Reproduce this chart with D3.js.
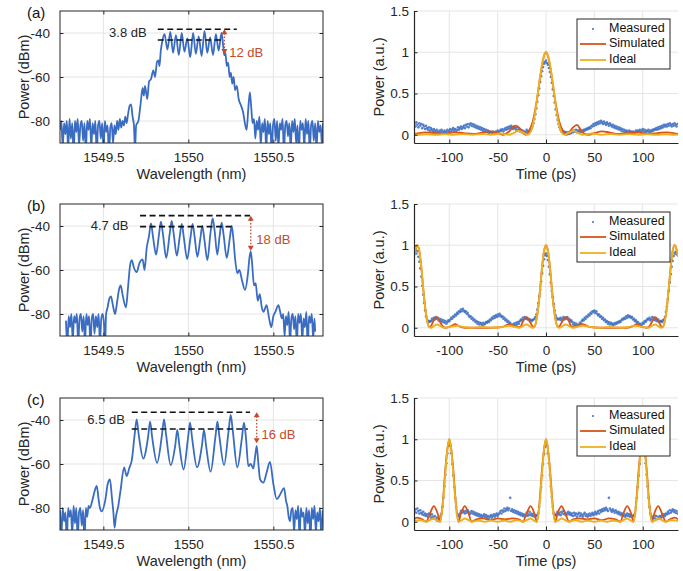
<!DOCTYPE html>
<html>
<head>
<meta charset="utf-8">
<script src="https://cdn.jsdelivr.net/npm/d3@7"></script>
<style>
  body { margin: 0; background: #fff; }
  svg { display: block; }
</style>
</head>
<body>
<svg id="fig" width="683" height="571"></svg>
<script>
// ---- tick values and labels ----
const wlTicks = [1549.5, 1550, 1550.5];
const dbmTicks = [-80, -60, -40];
const timeTicks = [-100, -50, 0, 50, 100];
const powTicks = [0, 0.5, 1, 1.5];
const panelLabels = ['(a)', '(b)', '(c)'];
const legendNames = ['Measured', 'Simulated', 'Ideal'];

// ---- spectrum annotations (dB values / wavelengths) ----
const rippleText = ['3.8 dB', '4.7 dB', '6.5 dB'];
const contrastText = ['12 dB', '18 dB', '16 dB'];
const levelHigh = [-38.3, -35.3, -36.5];
const levelLow = [-43.2, -40.3, -44.1];
const levelStart = [1549.82, 1549.716, 1549.667];
const highEnd = [1550.285, 1550.363, 1550.363];
const lowEnd = [1550.196, 1550.27, 1550.35];
const arrowWl = [1550.212, 1550.367, 1550.402];
const arrowLow = [-49.6, -51.2, -50.6];
const rippleAt = [[1549.755, -40.2], [1549.647, -40.3], [1549.627, -40.3]];
const contrastAt = [[1550.24, -49.2], [1550.40, -46.7], [1550.43, -47.2]];

// ---- optical spectra [wavelength nm, power dBm] ----
const specA = [
  [1549.245,-84],[1549.253,-80],[1549.261,-92],[1549.269,-81],[1549.277,-86],[1549.285,-80],[1549.293,-93],
  [1549.301,-79],[1549.309,-88],[1549.317,-81],[1549.325,-95],[1549.333,-80],[1549.341,-85],[1549.349,-79],
  [1549.357,-91],[1549.365,-82],[1549.373,-80],[1549.381,-89],[1549.389,-81],[1549.397,-94],[1549.405,-80],
  [1549.413,-84],[1549.421,-79],[1549.429,-92],[1549.437,-81],[1549.445,-86],[1549.453,-80],[1549.461,-95],
  [1549.469,-82],[1549.477,-80],[1549.485,-88],[1549.493,-81],[1549.501,-93],[1549.509,-80],[1549.517,-85],
  [1549.525,-82],[1549.533,-96],[1549.541,-83],[1549.549,-81],[1549.557,-90],[1549.565,-82],[1549.573,-86],
  [1549.581,-80],[1549.589,-84],[1549.597,-79],[1549.605,-83],[1549.613,-80],[1549.621,-82],[1549.629,-78],
  [1549.637,-81],[1549.645,-77],[1549.655,-73],[1549.663,-72.5],[1549.672,-78],[1549.680,-82],[1549.686,-93],
  [1549.693,-82],[1549.706,-80],[1549.718,-73],[1549.731,-65],[1549.738,-68.5],[1549.745,-64],[1549.758,-70],
  [1549.769,-62],[1549.780,-61],[1549.794,-57],[1549.804,-60],[1549.816,-53],[1549.824,-52.5],[1549.830,-55],
  [1549.838,-48],[1549.846,-44],
  [1549.860,-40.5],[1549.877,-47.5],[1549.894,-39.5],[1549.910,-49],[1549.927,-41],[1549.944,-50],
  [1549.961,-40],[1549.977,-48.5],[1549.994,-42.5],[1550.011,-51],[1550.028,-40],[1550.044,-49.5],
  [1550.061,-41.5],[1550.078,-50.5],[1550.095,-39],[1550.111,-49],[1550.128,-42],[1550.145,-50],
  [1550.162,-40.5],[1550.178,-48],[1550.195,-40],
  [1550.205,-46],[1550.211,-50],[1550.218,-49],[1550.226,-55],[1550.234,-53.5],[1550.243,-60],[1550.250,-58],
  [1550.258,-63],[1550.266,-60],[1550.275,-66],[1550.285,-64],[1550.296,-70],[1550.310,-73],[1550.322,-76],
  [1550.335,-82],[1550.343,-84],[1550.352,-75],[1550.362,-67],[1550.370,-74],[1550.378,-81],
  [1550.386,-79],[1550.394,-88],[1550.402,-80],[1550.410,-84],[1550.418,-78],[1550.426,-91],[1550.434,-81],
  [1550.442,-85],[1550.450,-79],[1550.458,-93],[1550.466,-80],[1550.474,-86],[1550.482,-81],[1550.490,-95],
  [1550.498,-82],[1550.506,-79],[1550.514,-89],[1550.522,-80],[1550.530,-92],[1550.538,-81],[1550.546,-84],
  [1550.554,-79],[1550.562,-94],[1550.570,-82],[1550.578,-80],[1550.586,-87],[1550.594,-81],[1550.602,-93],
  [1550.610,-80],[1550.618,-85],[1550.626,-79],[1550.634,-90],[1550.642,-82],[1550.650,-96],[1550.658,-80],
  [1550.666,-84],[1550.674,-81],[1550.682,-92],[1550.690,-79],[1550.698,-86],[1550.706,-80],[1550.714,-94],
  [1550.722,-82],[1550.730,-80],[1550.738,-89],[1550.746,-81],[1550.754,-93],[1550.762,-80],[1550.770,-85],
  [1550.778,-82],[1550.786,-91],[1550.792,-81]
];

const specB = [
  [1549.280,-83],[1549.288,-95],[1549.296,-81],[1549.304,-86],[1549.312,-80],[1549.320,-92],[1549.328,-81],
  [1549.336,-84],[1549.344,-80],[1549.352,-94],[1549.360,-82],[1549.368,-80],[1549.376,-88],[1549.384,-81],
  [1549.392,-93],[1549.400,-80],[1549.408,-85],[1549.416,-81],[1549.424,-95],[1549.432,-82],[1549.440,-80],
  [1549.448,-89],[1549.456,-81],[1549.464,-86],[1549.472,-80],[1549.480,-93],[1549.488,-82],[1549.496,-80],
  [1549.504,-85],[1549.510,-96],[1549.516,-80],[1549.525,-77],[1549.535,-73],[1549.545,-72],[1549.556,-76],
  [1549.569,-80],[1549.580,-75],[1549.592,-69],[1549.602,-67],[1549.615,-72],[1549.633,-77],[1549.645,-68],
  [1549.657,-58],[1549.667,-55.5],[1549.680,-59],[1549.696,-61],[1549.712,-57],[1549.731,-55.2],[1549.742,-60],
  [1549.755,-50],
  [1549.768,-44.8],[1549.780,-38.8],[1549.792,-44.8],[1549.810,-53],
  [1549.827,-44],[1549.839,-38],[1549.851,-44],[1549.870,-54.5],
  [1549.890,-43.7],[1549.902,-37.7],[1549.914,-43.7],[1549.932,-53.5],
  [1549.949,-45],[1549.961,-39],[1549.973,-45],[1549.993,-55],
  [1550.013,-45],[1550.025,-39],[1550.037,-45],[1550.053,-54],
  [1550.070,-46],[1550.082,-40],[1550.094,-46],[1550.112,-55.5],
  [1550.131,-42.5],[1550.143,-36.5],[1550.155,-42.5],[1550.170,-53],
  [1550.184,-44.5],[1550.196,-38.5],[1550.208,-44.5],[1550.226,-54.5],
  [1550.243,-46],[1550.255,-40],[1550.265,-46],
  [1550.275,-55],[1550.288,-61.5],[1550.300,-60],[1550.315,-64.5],[1550.333,-69],[1550.350,-62],[1550.360,-54],
  [1550.367,-51.5],[1550.375,-57],[1550.386,-67],[1550.396,-66],[1550.408,-74],[1550.420,-71],[1550.432,-77],
  [1550.442,-79],[1550.460,-76],[1550.475,-82],[1550.488,-86],[1550.500,-81],[1550.512,-79],[1550.530,-76],
  [1550.540,-79],[1550.550,-82],
  [1550.558,-80],[1550.566,-90],[1550.574,-81],[1550.582,-85],[1550.590,-79],[1550.598,-93],[1550.606,-82],
  [1550.614,-80],[1550.622,-87],[1550.630,-81],[1550.638,-94],[1550.646,-80],[1550.654,-84],[1550.662,-80],
  [1550.670,-92],[1550.678,-82],[1550.686,-86],[1550.694,-79],[1550.702,-95],[1550.710,-81],[1550.718,-84],
  [1550.726,-80],[1550.734,-91],[1550.742,-82],[1550.746,-88]
];

const specC = [
  [1549.245,-81],[1549.253,-93],[1549.261,-80],[1549.269,-86],[1549.277,-82],[1549.285,-95],[1549.293,-80],
  [1549.301,-84],[1549.309,-81],[1549.317,-92],[1549.325,-79],[1549.333,-87],[1549.341,-80],[1549.349,-94],
  [1549.357,-82],[1549.365,-80],[1549.373,-88],[1549.381,-81],[1549.389,-95],[1549.397,-80],[1549.405,-84],
  [1549.413,-79],[1549.420,-80],[1549.437,-76],[1549.450,-72],[1549.461,-70],[1549.472,-76],[1549.480,-80],
  [1549.490,-81.5],[1549.510,-77],[1549.526,-69],[1549.539,-67],[1549.550,-75],[1549.559,-82],[1549.566,-89],
  [1549.574,-84],[1549.588,-79],[1549.602,-71.5],[1549.622,-61.5],[1549.637,-65.5],[1549.652,-62],[1549.668,-58],
  [1549.684,-46.7],[1549.696,-39.7],[1549.708,-46.7],[1549.735,-57.5],
  [1549.763,-47.8],[1549.775,-40.8],[1549.787,-47.8],[1549.816,-59.5],
  [1549.845,-46.7],[1549.857,-39.7],[1549.869,-46.7],[1549.896,-60.5],
  [1549.923,-51.5],[1549.935,-44.5],[1549.947,-51.5],[1549.972,-62.5],
  [1549.998,-48.2],[1550.010,-41.2],[1550.022,-48.2],[1550.051,-61.5],
  [1550.080,-51.5],[1550.092,-44.5],[1550.104,-51.5],[1550.131,-63.5],
  [1550.159,-47.8],[1550.171,-40.8],[1550.183,-47.8],[1550.210,-60.5],
  [1550.237,-44.7],[1550.249,-37.7],[1550.261,-44.7],[1550.288,-61.5],
  [1550.315,-48.2],[1550.327,-41.2],[1550.339,-48.2],
  [1550.353,-61],[1550.367,-60],[1550.382,-62],[1550.392,-57],[1550.402,-51.8],[1550.412,-60],[1550.422,-67],
  [1550.441,-68.5],[1550.460,-64],[1550.480,-59],[1550.500,-69],[1550.520,-76],[1550.539,-74],[1550.563,-71],
  [1550.575,-77],[1550.582,-79],[1550.590,-84],[1550.598,-86],[1550.606,-81],
  [1550.614,-80],[1550.622,-91],[1550.630,-81],[1550.638,-85],[1550.646,-79],[1550.654,-94],[1550.662,-80],
  [1550.670,-84],[1550.678,-82],[1550.686,-92],[1550.694,-80],[1550.702,-87],[1550.710,-81],[1550.718,-95],
  [1550.726,-80],[1550.734,-85],[1550.742,-79],[1550.750,-91],[1550.758,-82],[1550.766,-86],[1550.774,-80],
  [1550.782,-93],[1550.790,-81]
];

// ---- pulse traces: measured samples every 1 ps starting at -136 ps ----
const measStart = -136;
const measA = [
  .13,.10,.15,.12,.09,.14,.11,.13,.08,.12,
  .10,.07,.11,.08,.06,.09,.05,.08,.06,.04,
  .07,.05,.03,.06,.04,.02,.05,.03,.06,.04,
  .02,.05,.03,.04,.06,.03,.05,.07,.04,.06,
  .08,.05,.07,.04,.06,.09,.06,.08,.10,.07,
  .09,.11,.08,.12,.10,.13,.09,.12,.14,.11,
  .13,.10,.12,.09,.11,.08,.10,.07,.09,.06,
  .08,.05,.07,.04,.06,.03,.05,.02,.04,.03,
  .02,.04,.03,.01,.04,.02,.05,.03,.04,.06,
  .05,.07,.04,.06,.08,.06,.09,.07,.10,.08,
  .11,.09,.07,.10,.08,.06,.09,.05,.07,.04,
  .06,.03,.05,.02,.04,.03,.06,.04,.03,.04,
  .05,.07,.10,.14,.19,.25,.32,.40,.48,.56,
  .64,.71,.77,.82,.86,.88,.90,.87,.85,.81,
  .76,.70,.63,.55,.47,.39,.31,.24,.18,.13,
  .09,.06,.04,.03,.02,.04,.02,.03,.01,.03,
  .01,.03,.02,.04,.03,.05,.04,.06,.03,.05,
  .04,.06,.03,.05,.04,.06,.05,.07,.06,.08,
  .07,.09,.08,.11,.10,.13,.11,.14,.12,.15,
  .13,.16,.14,.17,.15,.13,.16,.14,.12,.15,
  .13,.11,.14,.12,.10,.12,.09,.11,.08,.10,
  .07,.09,.06,.08,.05,.07,.04,.06,.03,.05,
  .04,.02,.05,.03,.04,.02,.04,.01,.03,.05,
  .03,.05,.04,.06,.03,.05,.07,.04,.06,.03,
  .05,.04,.06,.03,.05,.04,.06,.05,.07,.06,
  .08,.06,.09,.07,.10,.08,.11,.09,.12,.10,
  .12,.10,.13,.11,.14,.12,.10,.13,.11,.14,
  .12,.10,.13
];
const measB = [
  .92,.95,.90,.93,
  .86,.80,.72,.62,.51,.40,.30,.21,.14,.10,.08,.07,.08,
  .08,.11,.09,.12,.10,.13,.11,.12,.09,.11,.08,.10,.07,.09,
  .06,.08,.05,.07,.09,.08,
  .10,.12,.11,.14,.13,.16,.15,.18,.17,.20,.19,.22,.20,.23,.21,.19,.20,.17,.18,.15,
  .13,.14,.11,.12,.09,.10,.07,.08,.05,.07,.04,.06,.05,.03,.06,.04,.05,.07,
  .06,.08,.07,.10,.09,.12,.11,.14,.12,.15,.13,.16,.14,.17,.15,.13,.14,.11,.12,.09,.10,.07,
  .08,.05,.06,.03,.04,.02,.05,.03,.06,.04,.07,.05,
  .08,.10,.09,.12,.10,.13,.11,.12,.10,.11,.09,.10,.08,.09,
  .10,.11,.13,.16,.22,.30,.38,.46,.56,.66,.75,.83,.88,.90,.87,.82,.74,.65,.55,.45,.37,.29,.21,.15,.12,.10,.11,
  .10,.12,.09,.11,.13,.10,.12,.11,.13,.10,.11,.08,.09,.07,
  .04,.06,.03,.05,.02,.04,.03,.06,.05,
  .08,.10,.09,.12,.11,.14,.13,.16,.15,.18,.17,.20,.19,.21,.18,.20,.17,.15,.16,.13,.14,
  .11,.12,.09,.10,.07,.08,.05,.07,.04,.06,.05,.03,.05,.04,.06,.05,.07,.06,.08,.07,
  .09,.11,.10,.12,.11,.14,.12,.15,.13,.14,.12,.13,.10,.11,.08,.09,.06,.07,.04,.05,
  .02,.04,.06,.05,.08,.07,
  .09,.11,.10,.12,.09,.11,.13,.10,.12,.09,.11,.08,.10,.07,.08,
  .08,.07,.09,.10,.13,.19,.26,.35,.45,.55,.65,.74,.81,.87,.90,.92,.89,.91
];
const measC = [
  .12,.15,.11,.16,.13,.10,.14,.11,.09,.12,.08,.10,
  .07,.09,.06,.10,.08,.05,.09,.06,.04,.07,.03,.05,.01,.03,
  .04,.07,.10,.18,.29,.43,.57,.71,.83,.92,.96,.92,.83,.70,.56,.42,.29,.18,.10,.08,.07,
  .10,.13,.11,.14,.12,.10,.13,.11,.14,.12,.09,.11,.13,.10,.12,.09,.11,.08,.10,
  .07,.09,.06,.08,.05,.07,.09,.06,.08,.05,.07,.04,.06,.08,.05,.07,.09,.06,.08,.10,.07,.09,
  .11,.13,.10,.14,.12,.16,.13,.15,.17,.14,.16,.29,.13,.15,.12,.14,.11,.13,.10,.12,.09,.11,.08,
  .10,.07,.09,.06,.08,.11,.07,.09,.12,.08,.10,.07,.09,.06,.08,
  .07,.08,.10,.18,.29,.42,.56,.70,.82,.91,.96,.92,.83,.71,.57,.43,.30,.18,.10,.08,.08,
  .10,.12,.09,.11,.08,.12,.10,.13,.09,.11,.08,.10,.12,.09,.11,.08,
  .10,.07,.11,.08,.10,.06,.09,.11,.07,.10,.08,.06,.09,.11,.07,.09,.06,.08,.10,.07,.09,.11,.08,.10,.12,.09,
  .11,.13,.10,.14,.12,.15,.13,.16,.14,.17,.15,.13,.29,.16,.14,.12,.15,.13,.11,.14,.12,.10,.12,
  .09,.11,.08,.10,.07,.09,.06,.08,.10,.07,.09,.06,.08,.07,
  .07,.08,.10,.18,.29,.42,.56,.70,.83,.92,.95,.92,.83,.71,.57,.43,.29,.18,.10,.07,.05,
  .05,.08,.04,.07,.03,.06,.04,.07,.05,.08,.06,.09,.07,.10,
  .09,.12,.10,.14,.11,.13,.15,.12,.14,.11,.13,.10
];

// ---- simulated and ideal traces [time ps, power a.u.] ----
const simA = [
  [-136.5,.01],[-125,.03],[-115,.02],[-105,.01],[-95,.03],[-85,.02],[-75,.01],[-65,.03],[-58,.04],[-50,.02],
  [-44,0],[-38,.04],[-32,.11],[-28,.09],[-24,.03],[-21,0],[-18,.04],[-14,.15],[-10,.38],[-6,.70],[-3,.91],
  [0,1],[3,.91],[6,.70],[10,.38],[14,.15],[18,.04],[21,0],[24,.03],[28,.09],[32,.12],[36,.06],[40,.01],
  [44,0],[50,.02],[58,.04],[65,.03],[75,.01],[85,.02],[95,.03],[105,.01],[115,.02],[125,.03],[136.5,.01]
];
const idealA = [
  [-136.5,.002],[-133,0],[-123.5,.006],[-114,0],[-104.5,.007],[-95,0],[-85.5,.008],[-76,0],[-66.5,.01],[-57,0],
  [-47.5,.016],[-38,0],[-34,.018],[-28.5,.045],[-23,.022],[-19,0],[-16,.032],[-14,.101],[-12,.213],[-10,.363],
  [-8,.537],[-6,.712],[-4,.862],[-2,.964],[0,1],[2,.964],[4,.862],[6,.712],[8,.537],[10,.363],[12,.213],
  [14,.101],[16,.032],[19,0],[23,.022],[28.5,.045],[34,.018],[38,0],[47.5,.016],[57,0],[66.5,.01],[76,0],
  [85.5,.008],[95,0],[104.5,.007],[114,0],[123.5,.006],[133,0],[136.5,.002]
];
const simB = [
  [-136.5,.86],[-135,.95],[-133,1],[-131,.93],[-129,.74],[-127,.48],[-125,.25],[-123,.09],[-121,.01],[-119,.02],
  [-116,.09],[-113,.13],[-110,.08],[-107,.02],[-104,0],[-98,.02],[-94,.045],[-90,.02],[-84,0],[-70,0],[-55,0],
  [-45,.01],[-38,.045],[-33,.02],[-28,.01],[-26,.02],[-23,.10],[-20,.13],[-17,.08],[-14,.02],[-12,.01],
  [-10,.09],[-8,.25],[-6,.48],[-4,.74],[-2,.93],[0,1],[2,.93],[4,.74],[6,.48],[8,.25],[10,.09],[12,.01],
  [14,.02],[17,.08],[20,.13],[23,.10],[26,.02],[28,.01],[33,.02],[38,.045],[45,.01],[55,0],[70,0],[84,0],
  [90,.02],[94,.045],[98,.02],[104,0],[107,.02],[110,.08],[113,.13],[116,.09],[119,.02],[121,.01],[123,.09],
  [125,.25],[127,.48],[129,.74],[131,.93],[133,1],[135,.95],[136.5,.86]
];
const idealB = [
  [-136.5,.86],[-135,.95],[-133,1],[-131,.93],[-129,.74],[-127,.48],[-125,.25],[-123,.09],[-121,.01],[-119,0],
  [-116,.02],[-113,.04],[-109,.02],[-106,0],[-99,.01],[-92,.025],[-86,.01],[-78,0],[-66,.01],[-55,0],[-45,.01],
  [-38,.025],[-32,.01],[-27,0],[-24,.02],[-20,.04],[-17,.02],[-14,0],[-12,.01],[-10,.09],[-8,.25],[-6,.48],
  [-4,.74],[-2,.93],[0,1],[2,.93],[4,.74],[6,.48],[8,.25],[10,.09],[12,.01],[14,0],[17,.02],[20,.04],[24,.02],
  [27,0],[32,.01],[38,.025],[45,.01],[55,0],[66,.01],[78,0],[86,.01],[92,.025],[99,.01],[106,0],[109,.02],
  [113,.04],[116,.02],[119,0],[121,.01],[123,.09],[125,.25],[127,.48],[129,.74],[131,.93],[133,1],[135,.95],
  [136.5,.86]
];
const simC = [
  [-136.5,.03],[-133,.05],[-128,.03],[-124,0],[-120,.10],[-116,.19],[-112,.10],[-109.5,0],[-107,.20],[-104,.65],
  [-102,.88],[-100,1],[-98,.88],[-96,.65],[-93,.20],[-90.5,0],[-88,.10],[-84,.19],[-80,.10],[-77,0],[-72,.03],
  [-65,.04],[-58,.02],[-50,.04],[-42,.03],[-35,.04],[-28,.03],[-24,0],[-20,.10],[-16,.19],[-12,.10],[-9.5,0],
  [-7,.20],[-4,.65],[-2,.88],[0,1],[2,.88],[4,.65],[7,.20],[9.5,0],[12,.10],[16,.19],[20,.10],[24,0],[28,.03],
  [35,.04],[42,.03],[50,.04],[58,.02],[65,.04],[72,.03],[77,0],[80,.10],[84,.19],[88,.10],[90.5,0],[93,.20],
  [96,.65],[98,.88],[100,1],[102,.88],[104,.65],[107,.20],[109.5,0],[112,.10],[116,.19],[120,.10],[124,0],
  [128,.03],[133,.05],[136.5,.03]
];
const idealC = [
  [-136.5,.01],[-130,.02],[-123,0],[-120,.02],[-116,.04],[-113,.02],[-109.5,0],[-108,.08],[-106,.30],[-104,.60],
  [-102,.88],[-100,1],[-98,.88],[-96,.60],[-94,.30],[-92,.08],[-90.5,0],[-87,.02],[-84,.04],[-80,.02],[-77,0],
  [-70,.015],[-63,0],[-57,.015],[-50,0],[-43,.015],[-37,0],[-30,.02],[-23,0],[-20,.02],[-16,.04],[-13,.02],
  [-9.5,0],[-8,.08],[-6,.30],[-4,.60],[-2,.88],[0,1],[2,.88],[4,.60],[6,.30],[8,.08],[9.5,0],[13,.02],[16,.04],
  [20,.02],[23,0],[30,.02],[37,0],[43,.015],[50,0],[57,.015],[63,0],[70,.015],[77,0],[80,.02],[84,.04],
  [87,.02],[90.5,0],[92,.08],[94,.30],[96,.60],[98,.88],[100,1],[102,.88],[104,.60],[106,.30],[108,.08],
  [109.5,0],[113,.02],[116,.04],[120,.02],[123,0],[130,.02],[136.5,.01]
];

const spectra = [specA, specB, specC];
const measured = [measA, measB, measC];
const simulated = [simA, simB, simC];
const ideal = [idealA, idealB, idealC];

// ---- layout ----
const font = '"Liberation Sans", Arial, Helvetica, sans-serif';
const ink = '#262626';
const gridCol = '#e2e2e2';
const blue = '#3a6cc2';
const red = '#d95319';
const yellow = '#edb120';
const annRed = '#c44a2c';
const tops = [11, 204, 398];
const plotH = 132;
const specL = 60, specR = 323;
const pulseL = 414, pulseR = 678;

const svg = d3.select('#fig').attr('font-family', font);
const fmtHyphen = d => String(d).replace('\u2212', '-');

function styleAxis(g, size) {
  g.attr('font-family', font);
  g.selectAll('text').attr('font-size', size).attr('fill', ink);
  g.selectAll('line').attr('stroke', ink);
  g.selectAll('path').attr('stroke', ink);
}

function grid(g, x, y, xt, yt, top) {
  g.append('g').selectAll('line').data(xt).join('line')
    .attr('x1', d => x(d)).attr('x2', d => x(d))
    .attr('y1', top).attr('y2', top + plotH)
    .attr('stroke', gridCol).attr('stroke-width', 0.9);
  g.append('g').selectAll('line').data(yt).join('line')
    .attr('x1', x.range()[0]).attr('x2', x.range()[1])
    .attr('y1', d => y(d)).attr('y2', d => y(d))
    .attr('stroke', gridCol).attr('stroke-width', 0.9);
}

function clipFor(id, x0, top, w) {
  svg.append('defs').append('clipPath').attr('id', id)
    .append('rect').attr('x', x0).attr('y', top).attr('width', w).attr('height', plotH);
  return `url(#${id})`;
}

// ---- left column: spectra ----
spectra.forEach((spec, i) => {
  const top = tops[i];
  const x = d3.scaleLinear().domain([1549.245, 1550.792]).range([specL, specR]);
  const y = d3.scaleLinear().domain([-90, -30]).range([top + plotH, top]);
  const g = svg.append('g');

  grid(g, x, y, wlTicks, dbmTicks, top);

  const line = d3.line().x(d => x(d[0])).y(d => y(d[1])).curve(d3.curveMonotoneX);
  g.append('path').datum(spec)
    .attr('d', line)
    .attr('fill', 'none').attr('stroke', blue).attr('stroke-width', 1.8)
    .attr('stroke-linejoin', 'round')
    .attr('clip-path', clipFor('clipS' + i, specL, top, specR - specL));

  // dashed levels
  g.append('line')
    .attr('x1', x(levelStart[i])).attr('x2', x(highEnd[i]))
    .attr('y1', y(levelHigh[i])).attr('y2', y(levelHigh[i]))
    .attr('stroke', '#111').attr('stroke-width', 1.6).attr('stroke-dasharray', '6,3.5');
  g.append('line')
    .attr('x1', x(levelStart[i])).attr('x2', x(lowEnd[i]))
    .attr('y1', y(levelLow[i])).attr('y2', y(levelLow[i]))
    .attr('stroke', '#111').attr('stroke-width', 1.6).attr('stroke-dasharray', '6,3.5');
  g.append('text')
    .attr('x', x(rippleAt[i][0])).attr('y', y(rippleAt[i][1]))
    .attr('text-anchor', 'end').attr('dominant-baseline', 'middle')
    .attr('font-size', 13).attr('fill', ink).text(rippleText[i]);

  // red double arrow
  const ax = x(arrowWl[i]), ay0 = y(levelHigh[i]), ay1 = y(arrowLow[i]);
  g.append('line')
    .attr('x1', ax).attr('x2', ax).attr('y1', ay0 + 4).attr('y2', ay1 - 4)
    .attr('stroke', annRed).attr('stroke-width', 1.3).attr('stroke-dasharray', '1.5,1.8');
  g.append('path')
    .attr('d', `M${ax - 3},${ay0 + 5}L${ax},${ay0}L${ax + 3},${ay0 + 5}Z`)
    .attr('fill', annRed);
  g.append('path')
    .attr('d', `M${ax - 3},${ay1 - 5}L${ax},${ay1}L${ax + 3},${ay1 - 5}Z`)
    .attr('fill', annRed);
  g.append('text')
    .attr('x', x(contrastAt[i][0])).attr('y', y(contrastAt[i][1]))
    .attr('dominant-baseline', 'middle')
    .attr('font-size', 13).attr('fill', annRed).text(contrastText[i]);

  // box and ticks on all four sides
  const gx = g.append('g').attr('transform', `translate(0,${top + plotH})`)
    .call(d3.axisBottom(x).tickValues(wlTicks).tickFormat(d => d).tickSize(-3.5).tickSizeOuter(0).tickPadding(9));
  const gy = g.append('g').attr('transform', `translate(${specL},0)`)
    .call(d3.axisLeft(y).tickValues(dbmTicks).tickFormat(fmtHyphen).tickSize(-3.5).tickSizeOuter(0).tickPadding(10));
  const gt = g.append('g').attr('transform', `translate(0,${top})`)
    .call(d3.axisTop(x).tickValues(wlTicks).tickFormat('').tickSize(-3.5).tickSizeOuter(0));
  const gr = g.append('g').attr('transform', `translate(${specR},0)`)
    .call(d3.axisRight(y).tickValues(dbmTicks).tickFormat('').tickSize(-3.5).tickSizeOuter(0));
  [gx, gy, gt, gr].forEach(a => { styleAxis(a, 13.5); a.select('.domain').remove(); });
  g.append('rect')
    .attr('x', specL).attr('y', top).attr('width', specR - specL).attr('height', plotH)
    .attr('fill', 'none').attr('stroke', ink).attr('stroke-width', 1);

  g.append('text')
    .attr('x', (specL + specR) / 2).attr('y', top + plotH + 36)
    .attr('text-anchor', 'middle').attr('font-size', 14.5).attr('fill', ink)
    .text('Wavelength (nm)');
  g.append('text')
    .attr('transform', `translate(25,${top + plotH / 2}) rotate(-90)`)
    .attr('text-anchor', 'middle').attr('dominant-baseline', 'middle')
    .attr('font-size', 14.5).attr('fill', ink)
    .text('Power (dBm)');
  g.append('text')
    .attr('x', 27).attr('y', top + 7)
    .attr('font-size', 15).attr('fill', '#111')
    .text(panelLabels[i]);
});

// ---- right column: pulse traces ----
measured.forEach((meas, i) => {
  const top = tops[i];
  const x = d3.scaleLinear().domain([-136.5, 136.5]).range([pulseL, pulseR]);
  const y = d3.scaleLinear().domain([-0.1, 1.5]).range([top + plotH, top]);
  const g = svg.append('g');

  grid(g, x, y, timeTicks, powTicks, top);

  const clip = clipFor('clipP' + i, pulseL, top, pulseR - pulseL);
  const pts = meas.map((v, k) => [measStart + k, v]);
  g.append('g').attr('clip-path', clip)
    .selectAll('circle').data(pts).join('circle')
    .attr('cx', d => x(d[0])).attr('cy', d => y(d[1])).attr('r', 1.3)
    .attr('fill', blue).attr('opacity', 0.85);

  const line = d3.line().x(d => x(d[0])).y(d => y(d[1])).curve(d3.curveMonotoneX);
  g.append('path').datum(simulated[i]).attr('d', line)
    .attr('fill', 'none').attr('stroke', red).attr('stroke-width', 1.8)
    .attr('clip-path', clip);
  g.append('path').datum(ideal[i]).attr('d', line)
    .attr('fill', 'none').attr('stroke', yellow).attr('stroke-width', 1.9)
    .attr('clip-path', clip);

  const gx = g.append('g').attr('transform', `translate(0,${top + plotH})`)
    .call(d3.axisBottom(x).tickValues(timeTicks).tickFormat(fmtHyphen).tickSize(-3.5).tickSizeOuter(0).tickPadding(9));
  const gy = g.append('g').attr('transform', `translate(${pulseL},0)`)
    .call(d3.axisLeft(y).tickValues(powTicks).tickFormat(d => d).tickSize(-3.5).tickSizeOuter(0).tickPadding(5));
  [gx, gy].forEach(a => { styleAxis(a, 13.5); a.select('.domain').attr('stroke-width', 1.2); });

  g.append('text')
    .attr('x', (pulseL + pulseR) / 2).attr('y', top + plotH + 36)
    .attr('text-anchor', 'middle').attr('font-size', 14.5).attr('fill', ink)
    .text('Time (ps)');
  g.append('text')
    .attr('transform', `translate(380,${top + plotH / 2}) rotate(-90)`)
    .attr('text-anchor', 'middle').attr('dominant-baseline', 'middle')
    .attr('font-size', 14.5).attr('fill', ink)
    .text('Power (a.u.)');

  // legend
  const lg = g.append('g').attr('transform', `translate(577,${top + 8})`);
  lg.append('rect').attr('width', 93).attr('height', 50)
    .attr('fill', '#fff').attr('stroke', ink).attr('stroke-width', 1);
  const rows = [10, 25, 41];
  const swatch = [blue, red, yellow];
  legendNames.forEach((name, k) => {
    if (k === 0) {
      lg.append('circle').attr('cx', 16).attr('cy', rows[k]).attr('r', 1).attr('fill', blue);
    } else {
      lg.append('line').attr('x1', 3).attr('x2', 29).attr('y1', rows[k]).attr('y2', rows[k])
        .attr('stroke', swatch[k]).attr('stroke-width', 1.8);
    }
    lg.append('text').attr('x', 32).attr('y', rows[k]).attr('dominant-baseline', 'middle')
      .attr('font-size', 12.5).attr('fill', '#111').text(name);
  });
});
</script>
</body>
</html>
